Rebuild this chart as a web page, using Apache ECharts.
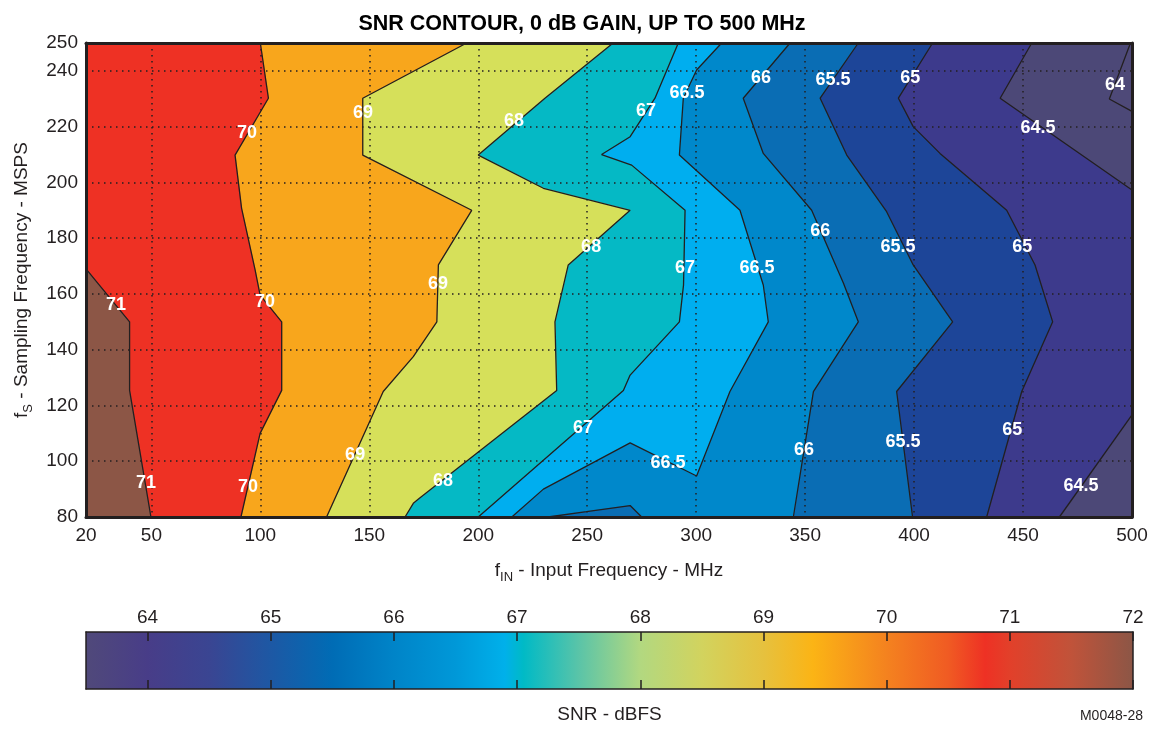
<!DOCTYPE html>
<html>
<head>
<meta charset="utf-8">
<title>SNR contour</title>
<script src="https://cdn.jsdelivr.net/npm/echarts@6.0.0/dist/echarts.min.js"></script>
<style>
  html, body { margin: 0; padding: 0; background: #fff; }
  #chart { width: 1164px; height: 729px; }
</style>
</head>
<body>
<div id="chart"></div>
<script>
const X_MIN = 20, X_MAX = 500, Y_MIN = 80, Y_MAX = 250

const xTicks = [20, 50, 100, 150, 200, 250, 300, 350, 400, 450, 500]
const yTicks = [80, 100, 120, 140, 160, 180, 200, 220, 240, 250]
const cbTicks = [64, 65, 66, 67, 68, 69, 70, 71, 72]
const cbRange = [63.5, 72]

// contour lines, each point is [fIN MHz, fS MSPS]
const c64 = [[499.3, 250], [489.6, 229.9], [500, 225.5]]
const c64_5top = [[454, 250], [439.5, 230.2], [500, 197.3]]
const c64_5bot = [[500, 116.6], [466.7, 80]]
const c65 = [[408.5, 250], [392.8, 230.2], [399.6, 220], [411.9, 210.4], [442.5, 190], [455.5, 170.4], [463.6, 150], [449.4, 125], [433.3, 80]]
const c65_5 = [[374.4, 250], [356.9, 230.2], [369.1, 209.8], [387.4, 189.5], [399.6, 170.4], [417.7, 150], [392, 125], [399.3, 80]]
const c66 = [[343.1, 250], [321.6, 230.2], [330.8, 210.4], [353, 190], [367.6, 163.8], [374.4, 150], [353.8, 125], [344.6, 80]]
const c66bump = [[232, 80], [249.7, 81.9], [269.7, 84.1], [275, 80]]
const c66_5 = [[311.7, 250], [300.2, 240.3], [294.1, 230.2], [292.3, 209.8], [320.1, 190], [330.8, 163.2], [333.1, 150], [315.5, 125], [300.2, 94.7], [269.7, 106.6], [229.9, 90], [215.4, 80]]
const c67 = [[291.8, 250], [281.1, 230.2], [269.7, 216.4], [256.6, 210], [270.4, 206.2], [294.9, 190], [294.2, 163.2], [292.3, 150], [269.7, 130.9], [266.6, 125.4], [200, 80]]
const c68 = [[261.9, 250], [230.6, 230.2], [200, 209.8], [229.9, 197.9], [269.7, 190], [241.3, 170.4], [235.2, 150], [236, 125.4], [173, 86.7], [170.2, 84.9], [166.4, 80]]
const c69 = [[194.7, 250], [147, 230.2], [147, 209.8], [197, 190], [181.7, 170.4], [181, 150], [170.2, 137.5], [156.4, 125], [130.4, 80]]
const c70 = [[100, 250], [103.7, 230.2], [88.4, 209.8], [91.4, 190.7], [97.6, 168.6], [99.9, 159.6], [109.8, 150], [109.8, 125.4], [99.9, 110], [91.1, 80]]
const c71 = [[20, 169], [40, 150], [40, 125.4], [49.8, 80]]

// contour labels: [fIN, fS, text]
const contourLabels = [
  [33.8, 156, '71'], [47.5, 92.2, '71'],
  [93.9, 217.7, '70'], [102.1, 157.1, '70'], [94.3, 90.7, '70'],
  [147.1, 224.9, '69'], [181.5, 163.6, '69'], [143.5, 102.2, '69'],
  [216.4, 222, '68'], [251.8, 176.8, '68'], [183.8, 92.9, '68'],
  [277, 225.6, '67'], [294.9, 169.3, '67'], [248.1, 111.9, '67'],
  [295.8, 232.1, '66.5'], [327.9, 169.3, '66.5'], [287.1, 99.4, '66.5'],
  [329.8, 237.4, '66'], [356.9, 182.6, '66'], [349.5, 104, '66'],
  [362.8, 236.7, '65.5'], [392.6, 176.8, '65.5'], [394.9, 106.9, '65.5'],
  [398.2, 237.4, '65'], [449.6, 176.8, '65'], [445, 111.2, '65'],
  [456.9, 219.5, '64.5'], [476.6, 91.1, '64.5'],
  [492.2, 234.9, '64']
]

// band fills: <64, 64-64.5, 64.5-65, 65-65.5, 65.5-66, 66-66.5, 66.5-67, 67-68, 68-69, 69-70, 70-71, 71-72
const bandColors = ['#4e4978', '#4c4877', '#3d3a8c', '#1d4598', '#0a6db4', '#0088cb', '#00aeef', '#05b9c5', '#d6e05a', '#f8a61c', '#ee3124', '#8c5646']

// colour bar stops [SNR, colour]
const cbStops = [
  [63.5, '#50497a'], [64, '#483d88'], [64.5, '#3a4592'], [65, '#1d58a4'], [65.5, '#006cb5'],
  [66, '#0084c8'], [66.5, '#0098d8'], [66.9, '#00b0ea'], [67.05, '#00bac6'], [67.5, '#5ac4a8'],
  [68, '#b2d880'], [68.5, '#d2d35e'], [69, '#e6c13e'], [69.4, '#fbb415'], [70, '#f4821f'],
  [70.5, '#f05b23'], [70.8, '#ee3124'], [71, '#e2402a'], [71.5, '#c0533a'], [72, '#8c5646']
]

const dark = '#231f20'
const font = '"Liberation Sans", Arial, sans-serif'

const plotRect = [[X_MIN, Y_MAX], [X_MAX, Y_MAX], [X_MAX, Y_MIN], [X_MIN, Y_MIN]]
const leftOf = (line) => [...line, [X_MIN, Y_MIN], [X_MIN, Y_MAX]]

// painted in order, each higher level on top of the one below
const fills = [
  [plotRect, 0],
  [leftOf([...c64, [X_MAX, Y_MIN]]), 1],
  [leftOf([...c64_5top, ...c64_5bot]), 2],
  [leftOf(c65), 3],
  [leftOf(c65_5), 4],
  [leftOf(c66), 5],
  [c66bump, 4],
  [leftOf(c66_5), 6],
  [leftOf(c67), 7],
  [leftOf(c68), 8],
  [leftOf(c69), 9],
  [leftOf(c70), 10],
  [leftOf([[X_MIN, Y_MAX], ...c71]), 11],
]

const contourLines = [c64, c64_5top, c64_5bot, c65, c65_5, c66, c66bump, c66_5, c67, c68, c69, c70, c71]

const chart = echarts.init(document.getElementById('chart'))

const dotted = { color: dark, width: 1.5, type: [1.5, 4.5] }
const nameRich = {
  n: { fontSize: 19, fontFamily: font, color: dark },
  s: { fontSize: 13, fontFamily: font, color: dark, padding: [14, 0, 0, 0] },
}

const option = {
  animation: false,
  backgroundColor: '#fff',
  title: [
    {
      text: 'SNR CONTOUR, 0 dB GAIN, UP TO 500 MHz',
      left: 'center',
      top: 8,
      textStyle: { fontFamily: font, fontSize: 21.5, fontWeight: 'bold', color: '#000' },
    },
    {
      text: 'M0048-28',
      right: 16,
      bottom: 1,
      textStyle: { fontFamily: font, fontSize: 14, fontWeight: 'normal', color: dark },
    },
  ],
  grid: [
    { left: 86, right: 32, top: 43, height: 474 },
    { left: 86, right: 31, top: 632, height: 57 },
  ],
  xAxis: [
    {
      gridIndex: 0, type: 'value', min: X_MIN, max: X_MAX, z: 3,
      axisLine: { show: true, onZero: false, lineStyle: { color: dark, width: 3 } },
      axisTick: { show: false, customValues: xTicks },
      axisLabel: { customValues: xTicks, fontSize: 19, fontFamily: font, color: dark, margin: 9 },
      splitLine: { show: true, lineStyle: dotted },
      name: '{n|f}{s|IN}{n| - Input Frequency - MHz}',
      nameLocation: 'middle',
      nameGap: 40,
      nameTextStyle: { rich: nameRich },
    },
    {
      gridIndex: 0, type: 'value', min: X_MIN, max: X_MAX, position: 'top', z: 3,
      axisLine: { show: true, onZero: false, lineStyle: { color: dark, width: 3 } },
      axisTick: { show: false }, axisLabel: { show: false }, splitLine: { show: false },
    },
    {
      gridIndex: 1, type: 'value', min: cbRange[0], max: cbRange[1], z: 3,
      axisLine: { show: true, onZero: false, lineStyle: { color: dark, width: 1.5 } },
      axisTick: { show: true, inside: true, length: 9, customValues: cbTicks, lineStyle: { color: dark, width: 1.5 } },
      axisLabel: { show: false },
      splitLine: { show: false },
      name: 'SNR - dBFS',
      nameLocation: 'middle',
      nameGap: 16,
      nameTextStyle: { fontSize: 19, fontFamily: font, color: dark },
    },
    {
      gridIndex: 1, type: 'value', min: cbRange[0], max: cbRange[1], position: 'top', z: 3,
      axisLine: { show: true, onZero: false, lineStyle: { color: dark, width: 1.5 } },
      axisTick: { show: true, inside: true, length: 9, customValues: cbTicks, lineStyle: { color: dark, width: 1.5 } },
      axisLabel: { customValues: cbTicks, fontSize: 19, fontFamily: font, color: dark, margin: 5 },
      splitLine: { show: false },
    },
  ],
  yAxis: [
    {
      gridIndex: 0, type: 'value', min: Y_MIN, max: Y_MAX, z: 3,
      axisLine: { show: true, onZero: false, lineStyle: { color: dark, width: 3 } },
      axisTick: { show: false, customValues: yTicks },
      axisLabel: { customValues: yTicks, fontSize: 19, fontFamily: font, color: dark, margin: 8 },
      splitLine: { show: true, lineStyle: dotted },
      name: '{n|f}{s|S}{n| - Sampling Frequency - MSPS}',
      nameLocation: 'middle',
      nameRotate: 90,
      nameGap: 50,
      nameTextStyle: { rich: nameRich },
    },
    {
      gridIndex: 0, type: 'value', min: Y_MIN, max: Y_MAX, position: 'right', z: 3,
      axisLine: { show: true, onZero: false, lineStyle: { color: dark, width: 3 } },
      axisTick: { show: false }, axisLabel: { show: false }, splitLine: { show: false },
    },
    {
      gridIndex: 1, type: 'value', min: 0, max: 1, z: 3,
      axisLine: { show: true, onZero: false, lineStyle: { color: dark, width: 1.5 } },
      axisTick: { show: false }, axisLabel: { show: false }, splitLine: { show: false },
    },
    {
      gridIndex: 1, type: 'value', min: 0, max: 1, position: 'right', z: 3,
      axisLine: { show: true, onZero: false, lineStyle: { color: dark, width: 1.5 } },
      axisTick: { show: false }, axisLabel: { show: false }, splitLine: { show: false },
    },
  ],
  series: [
    {
      type: 'custom',
      name: 'bands',
      xAxisIndex: 0,
      yAxisIndex: 0,
      z: 1,
      silent: true,
      encode: { x: 0, y: 1 },
      data: fills.map((f, i) => [X_MIN, Y_MIN, i]),
      renderItem: (params, api) => {
        const [pts, band] = fills[params.dataIndex]
        return {
          type: 'polygon',
          shape: { points: pts.map((p) => api.coord(p)) },
          style: { fill: bandColors[band], stroke: bandColors[band], lineWidth: 0.5 },
        }
      },
    },
    ...contourLines.map((line) => ({
      type: 'line',
      xAxisIndex: 0,
      yAxisIndex: 0,
      z: 2,
      silent: true,
      symbol: 'none',
      data: line,
      lineStyle: { color: dark, width: 1.3 },
    })),
    {
      type: 'scatter',
      xAxisIndex: 0,
      yAxisIndex: 0,
      z: 4,
      silent: true,
      symbolSize: 1,
      itemStyle: { color: 'transparent', opacity: 1 },
      data: contourLabels.map((d) => ({ value: [d[0], d[1]], name: d[2] })),
      labelLayout: { hideOverlap: false },
      label: {
        show: true,
        position: 'inside',
        formatter: (p) => p.name,
        color: '#ffffff',
        opacity: 1,
        fontSize: 18,
        fontWeight: 'bold',
        fontFamily: font,
      },
    },
    {
      type: 'custom',
      name: 'colorbar',
      xAxisIndex: 2,
      yAxisIndex: 2,
      z: 2,
      silent: true,
      encode: { x: [0, 1] },
      data: [[cbRange[0], cbRange[1]]],
      renderItem: (params, api) => {
        const p0 = api.coord([api.value(0), 0])
        const p1 = api.coord([api.value(1), 1])
        const span = cbRange[1] - cbRange[0]
        return {
          type: 'rect',
          shape: { x: p0[0], y: p1[1], width: p1[0] - p0[0], height: p0[1] - p1[1] },
          style: {
            fill: new echarts.graphic.LinearGradient(0, 0, 1, 0,
              cbStops.map(([v, c]) => ({ offset: (v - cbRange[0]) / span, color: c }))),
          },
        }
      },
    },
  ],
}

chart.setOption(option)
</script>
</body>
</html>
